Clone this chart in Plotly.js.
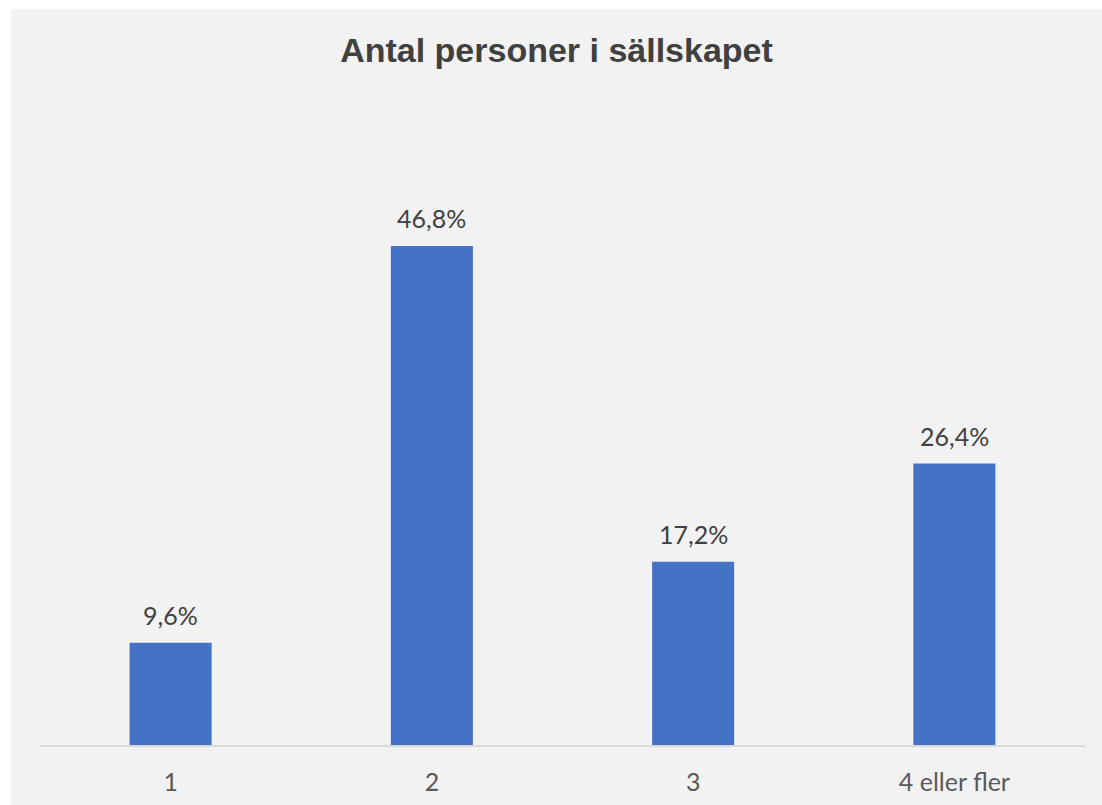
<!DOCTYPE html>
<html>
<head>
<meta charset="utf-8">
<script src="https://cdn.plot.ly/plotly-3.0.1.min.js"></script>
<style>
html,body{margin:0;padding:0;background:#ffffff;overflow:hidden;}
#chart{position:absolute;left:11px;top:9px;width:1091px;height:796px;}
</style>
</head>
<body>
<div id="chart"></div>
<script>
const categories = ["1", "2", "3", "4 eller fler"];
const values = [9.6, 46.8, 17.2, 26.4];
const chartTitle = "Antal personer i sällskapet";

const fmt = v => v.toFixed(1).replace(".", ",") + "%";

const trace = {
  type: "bar",
  x: categories,
  y: values,
  marker: {color: "#4472C4"},
  width: 0.314,
  hoverinfo: "skip"
};

// category axis: annotation x given as category index
const labelAnnotations = categories.map((c, i) => ({
  x: i,
  y: values[i],
  xref: "x",
  yref: "y",
  text: fmt(values[i]),
  showarrow: false,
  xanchor: "center",
  yanchor: "bottom",
  yshift: 11,
  font: {family: "Lato, sans-serif", size: 25, color: "#404040"}
}));

const layout = {
  width: 1091,
  height: 796,
  paper_bgcolor: "#f2f2f2",
  plot_bgcolor: "#f2f2f2",
  separators: ",.",
  margin: {l: 29, r: 16.5, t: 203, b: 60},
  showlegend: false,
  title: {
    text: "<b>" + chartTitle + "</b>",
    font: {family: "Liberation Sans, Arial, sans-serif", size: 34, color: "#404040"},
    x: 0.5, xanchor: "center",
    y: 1 - 41.5/796, yanchor: "middle"
  },
  annotations: labelAnnotations,
  xaxis: {
    type: "category",
    showgrid: false,
    showline: true,
    linecolor: "#d9d9d9",
    linewidth: 1.5,
    ticks: "",
    ticklabelstandoff: 14,
    tickfont: {family: "Lato, sans-serif", size: 25, color: "#595959"},
    fixedrange: true
  },
  yaxis: {
    range: [0, 50],
    visible: false,
    showgrid: false,
    zeroline: false,
    fixedrange: true
  }
};

Plotly.newPlot("chart", [trace], layout, {displayModeBar: false, staticPlot: true});
</script>
</body>
</html>
